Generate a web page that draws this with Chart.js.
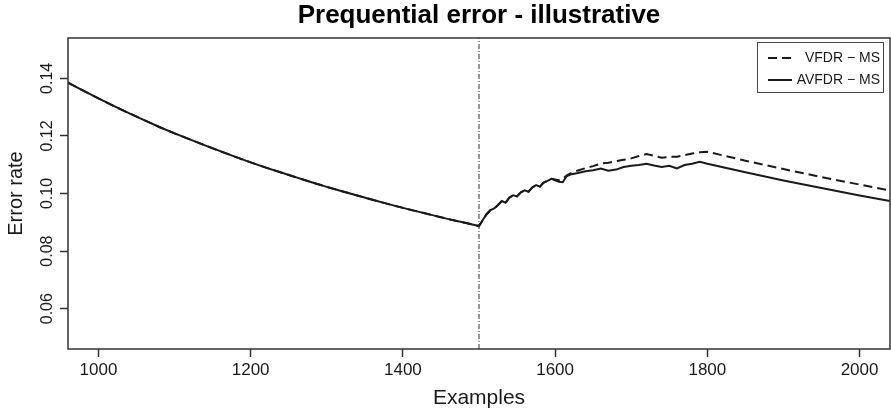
<!DOCTYPE html>
<html>
<head>
<meta charset="utf-8">
<script src="https://cdn.jsdelivr.net/npm/chart.js@4"></script>
<style>
  html, body { margin: 0; padding: 0; background: #fff; }
  #wrap { width: 891px; height: 413px; }
</style>
</head>
<body>
<div id="wrap"><canvas id="myChart" width="891" height="413"></canvas></div>
<script>
// data
const seriesNames = ["VFDR \u2212 MS", "AVFDR \u2212 MS"];
const examples = [
  960, 980, 1000, 1020, 1040, 1060, 1080, 1100, 1120, 1140, 1160, 1180, 1200, 1220,
  1240, 1260, 1280, 1300, 1320, 1340, 1360, 1380, 1400, 1420, 1440, 1460, 1480, 1500,
  1505, 1510, 1515, 1520, 1525, 1530, 1535, 1540, 1545, 1550, 1555, 1560, 1565, 1570,
  1575, 1580, 1585, 1590, 1595, 1600, 1605, 1610, 1615, 1620,
  1630, 1640, 1650, 1660, 1670, 1680, 1690, 1700, 1710, 1720, 1730, 1740, 1750, 1760,
  1770, 1780, 1790, 1800,
  1850, 1900, 1950, 2000, 2040
];
const vfdrErr = [
  0.1385, 0.1357, 0.1330, 0.1304, 0.1279, 0.1255, 0.1231, 0.1209, 0.1188, 0.1167, 0.1147, 0.1127, 0.1108, 0.1090,
  0.1073, 0.1056, 0.1039, 0.1023, 0.1008, 0.0993, 0.0978, 0.0964, 0.0950, 0.0937, 0.0924, 0.0911, 0.0899, 0.0887,
  0.0908, 0.0928, 0.0942, 0.0948, 0.0960, 0.0974, 0.0968, 0.0986, 0.0994, 0.0990, 0.1004, 0.1011, 0.1006, 0.1021,
  0.1029, 0.1024, 0.1038, 0.1044, 0.1051, 0.1049, 0.1046, 0.1050, 0.1062, 0.1070,
  0.1080, 0.1088, 0.1095, 0.1104, 0.1107, 0.1112, 0.1117, 0.1122, 0.1130, 0.1137, 0.1131, 0.1124, 0.1127, 0.1128,
  0.1133, 0.1139, 0.1143, 0.1145,
  0.1114, 0.1085, 0.1057, 0.1031, 0.1010
];
const avfdrErr = [
  0.1385, 0.1357, 0.1330, 0.1304, 0.1279, 0.1255, 0.1231, 0.1209, 0.1188, 0.1167, 0.1147, 0.1127, 0.1108, 0.1090,
  0.1073, 0.1056, 0.1039, 0.1023, 0.1008, 0.0993, 0.0978, 0.0964, 0.0950, 0.0937, 0.0924, 0.0911, 0.0899, 0.0887,
  0.0908, 0.0928, 0.0942, 0.0948, 0.0960, 0.0974, 0.0968, 0.0986, 0.0994, 0.0990, 0.1004, 0.1011, 0.1006, 0.1021,
  0.1029, 0.1024, 0.1038, 0.1044, 0.1051, 0.1046, 0.1041, 0.1039, 0.1060, 0.1066,
  0.1071, 0.1077, 0.1081, 0.1087, 0.1079, 0.1083, 0.1092, 0.1096, 0.1099, 0.1103, 0.1097, 0.1092, 0.1096, 0.1087,
  0.1099, 0.1103, 0.1110, 0.1103,
  0.1074, 0.1045, 0.1019, 0.0993, 0.0974
];
const driftAt = 1500;
const xTicks = [1000, 1200, 1400, 1600, 1800, 2000];
const yTicks = [0.06, 0.08, 0.10, 0.12, 0.14];
const xMin = 960, xMax = 2040;
const yMin = 0.046, yMax = 0.154;

const FONT = "'Liberation Sans', Arial, Helvetica, sans-serif";
const INK = "#1a1a1a";

function pts(ys) {
  return examples.map(function (x, i) { return { x: x, y: ys[i] }; });
}

// R style box, rotated y labels and legend
const rBox = {
  id: "rBox",
  afterDraw: function (chart) {
    const ctx = chart.ctx;
    const a = chart.chartArea;
    ctx.save();
    ctx.strokeStyle = "#333";
    ctx.lineWidth = 1.5;
    ctx.strokeRect(a.left, a.top, a.right - a.left, a.bottom - a.top);

    // y tick labels, read bottom to top
    const ys = chart.scales.y;
    ctx.fillStyle = INK;
    ctx.font = "16px " + FONT;
    ctx.textAlign = "center";
    ctx.textBaseline = "middle";
    yTicks.forEach(function (v) {
      const py = ys.getPixelForValue(v);
      ctx.save();
      ctx.translate(48, py);
      ctx.rotate(-Math.PI / 2);
      ctx.fillText(v.toFixed(2), 0, 0);
      ctx.restore();
    });

    // legend
    const lx = 757, ly = 42, lw = 126, lh = 50;
    ctx.fillStyle = "#fff";
    ctx.fillRect(lx, ly, lw, lh);
    ctx.strokeStyle = "#444";
    ctx.lineWidth = 1;
    ctx.strokeRect(lx + 0.5, ly + 0.5, lw, lh);
    const rows = [58, 80];
    ctx.font = "14px " + FONT;
    ctx.textAlign = "right";
    ctx.fillStyle = INK;
    seriesNames.forEach(function (name, i) {
      const ds = chart.data.datasets[i];
      ctx.beginPath();
      ctx.strokeStyle = INK;
      ctx.lineWidth = 2;
      ctx.setLineDash(ds.borderDash || []);
      ctx.moveTo(768, rows[i]);
      ctx.lineTo(792, rows[i]);
      ctx.stroke();
      ctx.setLineDash([]);
      ctx.fillText(name, 880, rows[i]);
    });
    ctx.restore();
  }
};

new Chart("myChart", {
  type: "line",
  data: {
    datasets: [{
      label: seriesNames[0],
      data: pts(vfdrErr),
      borderColor: INK,
      borderWidth: 2,
      borderDash: [9, 5],
      pointRadius: 0,
      fill: false
    }, {
      label: seriesNames[1],
      data: pts(avfdrErr),
      borderColor: INK,
      borderWidth: 2,
      pointRadius: 0,
      fill: false
    }, {
      label: "drift",
      data: [{ x: driftAt, y: yMin }, { x: driftAt, y: yMax }],
      borderColor: "#333",
      borderWidth: 1,
      borderDash: [5, 2, 1, 2],
      pointRadius: 0,
      fill: false
    }]
  },
  options: {
    responsive: false,
    animation: false,
    layout: { padding: { right: 1, left: 0, top: 0, bottom: 0 } },
    plugins: {
      legend: { display: false },
      tooltip: { enabled: false },
      title: {
        display: true,
        text: "Prequential error - illustrative",
        fullSize: false,
        color: "#000",
        font: { family: FONT, size: 26, weight: "bold", lineHeight: 1.2 },
        padding: { top: 0, bottom: 6.8 }
      }
    },
    scales: {
      x: {
        type: "linear",
        min: xMin,
        max: xMax,
        afterBuildTicks: function (s) { s.ticks = xTicks.map(function (v) { return { value: v }; }); },
        afterFit: function (s) { s.height = 64; },
        border: { display: false },
        grid: { drawOnChartArea: false, drawTicks: true, tickLength: 8, tickColor: "#333", tickWidth: 1.5 },
        ticks: {
          color: INK,
          font: { family: FONT, size: 17 },
          padding: 3,
          maxRotation: 0,
          callback: function (v) { return String(v); }
        },
        title: {
          display: true,
          text: "Examples",
          color: INK,
          font: { family: FONT, size: 21 },
          padding: { top: 0, bottom: 2 }
        }
      },
      y: {
        type: "linear",
        min: yMin,
        max: yMax,
        afterBuildTicks: function (s) { s.ticks = yTicks.map(function (v) { return { value: v }; }); },
        afterFit: function (s) { s.width = 68; },
        border: { display: false },
        grid: { drawOnChartArea: false, drawTicks: true, tickLength: 8, tickColor: "#333", tickWidth: 1.5 },
        ticks: { display: false },
        title: {
          display: true,
          text: "Error rate",
          color: INK,
          font: { family: FONT, size: 20 },
          padding: { top: 4, bottom: 0 }
        }
      }
    }
  },
  plugins: [rBox]
});
</script>
</body>
</html>
